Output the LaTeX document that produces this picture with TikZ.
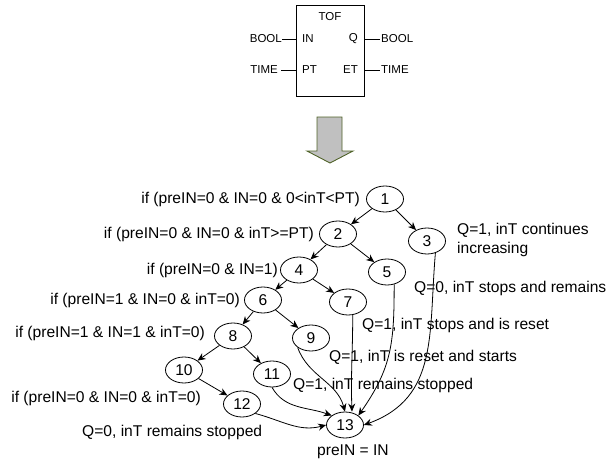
\documentclass[tikz,border=0pt]{standalone}
\usepackage{fontspec}
\setmainfont{Liberation Sans}
\usetikzlibrary{arrows.meta,shapes.geometric}
\begin{document}
\begin{tikzpicture}[x=1pt,y=-1pt,
  st/.style={ellipse,draw,line width=0.8pt,minimum width=37pt,minimum height=26pt,inner sep=0pt,font=\fontsize{15.6}{17}\selectfont},
  lbl/.style={font=\fontsize{15.6}{19.5}\selectfont,inner sep=0pt},
  sml/.style={font=\fontsize{11.5}{12}\selectfont,inner sep=0pt},
  arr/.style={-{Stealth[length=8pt,width=7pt]},line width=0.8pt},
  pin/.style={line width=0.8pt}]
\useasboundingbox (0,0) rectangle (611,463);
% TOF block
\node[draw,line width=0.8pt,minimum width=68pt,minimum height=91pt,anchor=north west,inner sep=0pt] (box) at (296,5) {};
\node[sml] (tof) at (330,17) {TOF};
\node[sml,anchor=west] (in) at (302,39) {IN};
\node[sml,anchor=west] (pt) at (302,70) {PT};
\node[sml,anchor=east] (q) at (358,39) {Q};
\node[sml,anchor=east] (et) at (358,70) {ET};
\node[sml,anchor=east] (bl) at (282,39) {BOOL};
\node[sml,anchor=east] (tl) at (278,70) {TIME};
\node[sml,anchor=west] (br) at (381,39) {BOOL};
\node[sml,anchor=west] (tr) at (381,70) {TIME};
\coordinate (inp) at (296,39);
\coordinate (ptp) at (296,70);
\coordinate (qp) at (364,39);
\coordinate (etp) at (364,70);
\draw[pin] (bl.east) -- (inp);
\draw[pin] ([xshift=3pt]tl.east) -- (ptp);
\draw[pin] (qp) -- ([xshift=-1pt]br.west);
\draw[pin] (etp) -- ([xshift=-1pt]tr.west);
% big arrow
\draw[draw={rgb,255:red,79;green,98;blue,40},fill={rgb,255:red,192;green,192;blue,192},line width=0.9pt]
  (317,117) -- (342,117) -- (342,151) -- (353,151) -- (330,163) -- (307,151) -- (317,151) -- cycle;
% states
\node[st] (n1) at (385,199) {1};
\node[st] (n2) at (338,234) {2};
\node[st] (n3) at (427,241) {3};
\node[st] (n4) at (299,270) {4};
\node[st] (n5) at (387,272) {5};
\node[st] (n6) at (263,300) {6};
\node[st] (n7) at (348,302) {7};
\node[st] (n8) at (233,336) {8};
\node[st] (n9) at (311,338) {9};
\node[st] (n10) at (184,370) {10};
\node[st] (n11) at (272,374) {11};
\node[st] (n12) at (242,404) {12};
\node[st] (n13) at (345,425) {13};
% labels
\node[lbl,anchor=east] (l1) at (360,199) {if (preIN=0 \& IN=0 \& 0<inT<PT)};
\node[lbl,anchor=east] (l2) at (314,234) {if (preIN=0 \& IN=0 \& inT>=PT)};
\node[lbl,anchor=east] (l4) at (278,270) {if (preIN=0 \& IN=1)};
\node[lbl,anchor=east] (l6) at (240,300) {if (preIN=1 \& IN=0 \& inT=0)};
\node[lbl,anchor=east] (l8) at (205,333) {if (preIN=1 \& IN=1 \& inT=0)};
\node[lbl,anchor=east] (l10) at (201,398) {if (preIN=0 \& IN=0 \& inT=0)};
\node[lbl,anchor=west,align=left] (r3) at (457,240) {Q=1, inT continues\\increasing};
\node[lbl,anchor=west] (r5) at (414,288) {Q=0, inT stops and remains};
\node[lbl,anchor=west] (r7) at (362,325) {Q=1, inT stops and is reset};
\node[lbl,anchor=west] (r9) at (329,357) {Q=1, inT is reset and starts};
\node[lbl,anchor=west] (r11) at (293,385) {Q=1, inT remains stopped};
\node[lbl,anchor=west] (r12) at (82,432) {Q=0, inT remains stopped};
\node[lbl,anchor=west] (r13) at (317,452) {preIN = IN};
% edges
\draw[arr] (n1) -- (n2);
\draw[arr] (n1) -- (n3);
\draw[arr] (n2) -- (n4);
\draw[arr] (n2) -- (n5);
\draw[arr] (n4) -- (n6);
\draw[arr] (n4) -- (n7);
\draw[arr] (n6) -- (n8);
\draw[arr] (n6) -- (n9);
\draw[arr] (n8) -- (n10);
\draw[arr] (n8) -- (n11);
\draw[arr] (n10) -- (n12);
\draw[arr] (n11.south) to[out=-60,in=160] (n13.north west);
\draw[arr] (n9.south west) to[out=-70,in=105] (n13.north);
\draw[arr] (n7.-70) to[out=-90,in=92] ([xshift=7pt]n13.north);
\draw[arr] (n5.-60) to[out=-90,in=55,looseness=1.1] (n13.north east);
\draw[arr] (n3.-55) to[out=-95,in=20,looseness=1.1] (n13.east);
\draw[arr] (n12.south east) to[out=-15,in=195] (n13.west);
\end{tikzpicture}
\end{document}
